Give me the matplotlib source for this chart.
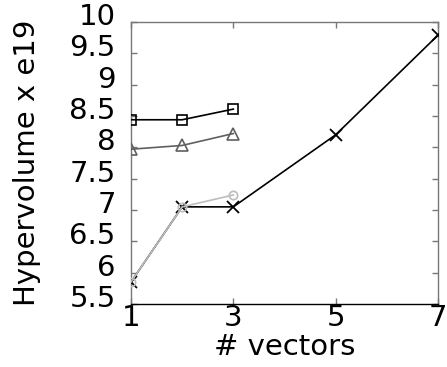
import matplotlib
matplotlib.use("Agg")
import matplotlib.pyplot as plt
import matplotlib.transforms as mtransforms

# data
x_short = [1, 2, 3]
y_square = [8.44, 8.44, 8.61]
y_triangle = [7.97, 8.03, 8.22]
y_circle = [5.85, 7.05, 7.24]
x_long = [1, 2, 3, 5, 7]
y_cross = [5.85, 7.05, 7.05, 8.2, 9.79]

xticks = [1, 3, 5, 7]
yticks = [5.5, 6, 6.5, 7, 7.5, 8, 8.5, 9, 9.5, 10]
ytick_labels = ["5.5", "6", "6.5", "7", "7.5", "8", "8.5", "9", "9.5", "10"]

fig = plt.figure(figsize=(4.47, 3.67), dpi=100, facecolor="white")
ax = fig.add_axes([131/447, 1-304/367, 307/447, 282/367])

ax.plot(x_long, y_cross, color="black", lw=1.2, marker="x", ms=9, mew=1.3, zorder=3)
ax.plot(x_short, y_circle, color="#bdbdbd", lw=1.2, marker="o", ms=6, mfc="none", mew=1.2, zorder=4)
ax.plot(x_short, y_triangle, color="#5f5f5f", lw=1.2, marker="^", ms=8, mfc="none", mew=1.2, zorder=3)
ax.plot(x_short, y_square, color="black", lw=1.2, marker="s", ms=6.5, mfc="none", mew=1.2, zorder=3)

ax.set_xlim(1, 7)
ax.set_ylim(5.5, 10)
ax.set_xticks(xticks)
ax.set_yticks(yticks)
ax.set_yticklabels(ytick_labels)

for side in ["left", "right", "top"]:
    ax.spines[side].set_color("#777777")
ax.spines["bottom"].set_color("black")
for s in ax.spines.values():
    s.set_linewidth(1.0)

ax.tick_params(axis="both", direction="in", length=4, width=1, color="#777777",
               labelsize=21, top=True, right=True)
ax.tick_params(axis="x", pad=0)
ax.tick_params(axis="y", pad=11)

# gnuplot puts the y labels a little above their ticks
off = mtransforms.ScaledTranslation(0, 8/100, fig.dpi_scale_trans)
for lab in ax.get_yticklabels():
    lab.set_transform(lab.get_transform() + off)

ax.set_xlabel("# vectors", fontsize=21, labelpad=1)
fig.text(27/447, 1-163/367, "Hypervolume x e19", rotation=90, fontsize=21,
         ha="center", va="center")

fig.savefig("out.png", dpi=100, facecolor="white")
